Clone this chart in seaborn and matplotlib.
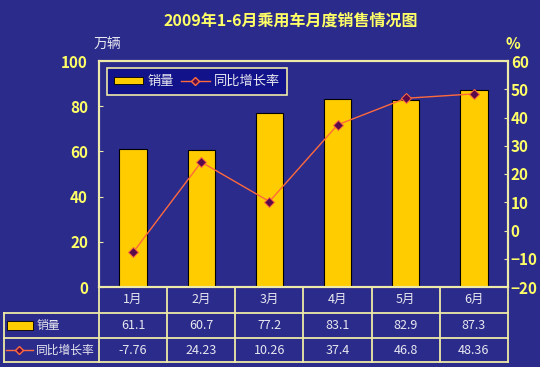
import numpy as np
import matplotlib
matplotlib.use("Agg")
import matplotlib.pyplot as plt
import matplotlib.transforms as mtransforms
from matplotlib.lines import Line2D
from matplotlib.patches import Patch, Rectangle
import seaborn as sns

# data
months = ['1月', '2月', '3月', '4月', '5月', '6月']
sales = [61.1, 60.7, 77.2, 83.1, 82.9, 87.3]          # 万辆
growth = [-7.76, 24.23, 10.26, 37.4, 46.8, 48.36]     # %
sales_labels = ['61.1', '60.7', '77.2', '83.1', '82.9', '87.3']
growth_labels = ['-7.76', '24.23', '10.26', '37.4', '46.8', '48.36']
left_ticks = [0, 20, 40, 60, 80, 100]
right_ticks = [-20, -10, 0, 10, 20, 30, 40, 50, 60]

bg = '#2b2b8c'
bar_color = '#ffcc00'
line_color = '#ff6a3d'
marker_color = '#5a0a4a'
frame_color = '#eeeaa8'
tick_color = '#ffff66'
text_color = '#e8e8f0'

plt.rcParams['font.family'] = ['Noto Sans CJK SC', 'DejaVu Sans']

fig = plt.figure(figsize=(5.4, 3.67), dpi=100, facecolor=bg)
ax = fig.add_axes([99 / 540, 1 - 287 / 367, 409 / 540, 226 / 367])
ax.set_facecolor(bg)

x = np.arange(len(months))
sns.barplot(x=x, y=sales, orient='x', color=bar_color, saturation=1,
            edgecolor='black', linewidth=0.8, width=0.4, ax=ax)
ax.set_xlim(-0.5, len(months) - 0.5)
ax.set_ylim(0, 100)
ax.set_yticks(left_ticks)
ax.tick_params(axis='y', direction='in', length=3, color=frame_color,
               labelcolor=tick_color, labelsize=11, pad=8)
ax.tick_params(axis='x', bottom=False, labelbottom=False)
for lab in ax.get_yticklabels():
    lab.set_fontweight('bold')
ax.set_xlabel('')
ax.set_ylabel('')

ax2 = ax.twinx()
sns.lineplot(x=x, y=growth, color=line_color, lw=1, marker='D', markersize=5,
             markerfacecolor=marker_color, markeredgecolor=line_color, ax=ax2)
ax2.set_ylim(-20, 60)
ax2.set_yticks(right_ticks)
ax2.tick_params(axis='y', direction='in', length=3, color=frame_color,
                labelcolor=tick_color, labelsize=11, pad=2)
for lab in ax2.get_yticklabels():
    lab.set_fontweight('bold')
ax2.set_ylabel('')

for a in (ax, ax2):
    for sp in a.spines.values():
        sp.set_color(frame_color)
        sp.set_linewidth(1.5)

# legend
handles = [Patch(facecolor=bar_color, edgecolor='black', linewidth=0.6),
           Line2D([0], [0], color=line_color, lw=1, marker='D', markersize=4,
                  markerfacecolor=marker_color, markeredgecolor=line_color)]
leg = ax2.legend(handles, ['销量', '同比增长率'], loc='upper left',
                 bbox_to_anchor=(0.02, 0.97), ncol=2, fancybox=False,
                 facecolor='#12128a', edgecolor=frame_color, framealpha=1,
                 fontsize=9.5, labelcolor=text_color, handlelength=2.2,
                 handleheight=0.5, columnspacing=0.5, handletextpad=0.3,
                 borderpad=0.55, borderaxespad=0)
leg.get_frame().set_linewidth(1.2)

# data table under the axis
trans = mtransforms.blended_transform_factory(ax.transData, ax.transAxes)
px = 409.0
py = 226.0
row_lines = [-26 / py, -51 / py, -75 / py]
row_mid = [-12.5 / py, -38.5 / py, -63 / py]
left_edge = -95 / px

kw = dict(transform=ax.transAxes, clip_on=False, color=frame_color, lw=1.3)
for yl in row_lines:
    ax.plot([left_edge, 1], [yl, yl], **kw)
ax.plot([left_edge, left_edge], [row_lines[0], row_lines[-1]], **kw)
for k in range(len(months) + 1):
    ax.plot([k - 0.5, k - 0.5], [0, row_lines[-1]], transform=trans,
            clip_on=False, color=frame_color, lw=1.3)

for i in range(len(months)):
    ax.text(i, row_mid[0], months[i], transform=trans, ha='center', va='center',
            fontsize=9, color=text_color, clip_on=False)
    ax.text(i, row_mid[1], sales_labels[i], transform=trans, ha='center',
            va='center', fontsize=9, color=text_color, clip_on=False)
    ax.text(i, row_mid[2], growth_labels[i], transform=trans, ha='center',
            va='center', fontsize=9, color=text_color, clip_on=False)

# row labels with their keys
ax.add_patch(Rectangle((-92 / px, row_mid[1] - 4.5 / py), 26 / px, 9 / py,
                       transform=ax.transAxes, clip_on=False,
                       facecolor=bar_color, edgecolor='black', lw=0.6))
ax.text(-62 / px, row_mid[1], '销量', transform=ax.transAxes, ha='left',
        va='center', fontsize=8.5, color=text_color, clip_on=False)
ax.plot([-93 / px, -66 / px], [row_mid[2], row_mid[2]], transform=ax.transAxes,
        clip_on=False, color=line_color, lw=1)
ax.plot([-80 / px], [row_mid[2]], transform=ax.transAxes, clip_on=False,
        marker='D', markersize=4, markerfacecolor=marker_color,
        markeredgecolor=line_color)
ax.text(-63 / px, row_mid[2], '同比增长率', transform=ax.transAxes, ha='left',
        va='center', fontsize=8.5, color=text_color, clip_on=False)

# title and unit labels
fig.text(291 / 540, 1 - 21 / 367, '2009年1-6月乘用车月度销售情况图', ha='center',
         va='center', fontsize=11.5, color=tick_color, fontweight='bold')
fig.text(107 / 540, 1 - 45 / 367, '万辆', ha='center', va='center',
         fontsize=10, color=text_color)
fig.text(513 / 540, 1 - 44 / 367, '%', ha='center', va='center',
         fontsize=11, color=tick_color, fontweight='bold')

fig.savefig('out.png', dpi=100, facecolor=bg)
